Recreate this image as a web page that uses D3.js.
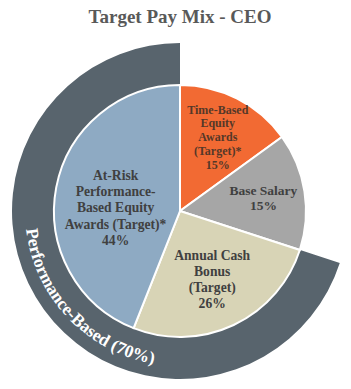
<!DOCTYPE html>
<html>
<head>
<meta charset="utf-8">
<script src="https://cdn.jsdelivr.net/npm/d3@7"></script>
<style>
  body { margin: 0; background: #fff; }
  svg { display: block; }
</style>
</head>
<body>
<div id="chart"></div>
<script>
// data
const title = "Target Pay Mix - CEO";
const sliceNames = ["Time-Based Equity Awards (Target)*", "Base Salary", "Annual Cash Bonus (Target)", "At-Risk Performance-Based Equity Awards (Target)*"];
const sliceValues = [15, 15, 26, 44];
const sliceLines = [
    ["Time-Based", "Equity", "Awards", "(Target)*"],
    ["Base Salary"],
    ["Annual Cash", "Bonus", "(Target)"],
    ["At-Risk", "Performance-", "Based Equity", "Awards (Target)*"]
];
const sliceColors = ["#f26a33", "#a6a6a6", "#d8d4b6", "#8eaac3"];
const groupLabel = "Performance-Based";
const groupMembers = [2, 3];

// layout
const width = 351, height = 389;
const cx = 180, cy = 211;
const rPie = 126, rRing = 168, rText = 155;
const fontFam = "'Liberation Serif', 'Times New Roman', serif";
const labelRadius = [0.66, 0.67, 0.6, 0.52];
const labelShift = [[0, 0], [0, 0], [0, 0], [0, 9]];
const labelFont = [12, 13.5, 13.6, 13.6];
const labelLine = [13.8, 15.5, 16.2, 16.2];
const labelColor = ["#553828", "#404040", "#404040", "#404040"];

const svg = d3.select("#chart").append("svg")
    .attr("width", width)
    .attr("height", height);

svg.append("text")
    .attr("x", cx)
    .attr("y", 23)
    .attr("text-anchor", "middle")
    .attr("font-family", fontFam)
    .attr("font-size", 19)
    .attr("font-weight", "bold")
    .attr("fill", "#595959")
    .text(title);

const g = svg.append("g")
    .attr("transform", `translate(${cx},${cy})`);

const pie = d3.pie().sort(null).value(d => d);
const arcs = pie(sliceValues);

// outer ring for the performance-based group
const ringStart = arcs[groupMembers[0]].startAngle;
const ringEnd = arcs[groupMembers[groupMembers.length - 1]].endAngle;
const groupTotal = d3.sum(groupMembers, i => sliceValues[i]);

g.append("path")
    .attr("d", d3.arc().innerRadius(rPie - 2).outerRadius(rRing)({startAngle: ringStart, endAngle: ringEnd}))
    .attr("fill", "#58646d");

// slices
const arc = d3.arc().innerRadius(0).outerRadius(rPie);
g.selectAll(".slice")
    .data(arcs)
    .enter().append("path")
    .attr("class", "slice")
    .attr("d", arc)
    .attr("fill", (d, i) => sliceColors[i])
    .attr("stroke", "#fff")
    .attr("stroke-width", 2);

// slice labels, one text element per line
arcs.forEach((d, i) => {
    const r = rPie * labelRadius[i];
    const pos = d3.arc().innerRadius(r).outerRadius(r).centroid(d);
    const x = pos[0] + labelShift[i][0];
    const y = pos[1] + labelShift[i][1];
    const lines = sliceLines[i].concat([sliceValues[i] + "%"]);
    const lh = labelLine[i];
    lines.forEach((line, j) => {
        g.append("text")
            .attr("text-anchor", "middle")
            .attr("font-family", fontFam)
            .attr("font-size", labelFont[i])
            .attr("font-weight", "bold")
            .attr("fill", labelColor[i])
            .attr("x", x)
            .attr("y", y - (lines.length - 1) * lh / 2 + j * lh + labelFont[i] * 0.35)
            .text(line);
    });
});

// curved ring label: letters laid one by one along the arc,
// running counterclockwise so glyph tops face the centre
const ringText = `${groupLabel} (${groupTotal}%)`;
const ringFont = 17.5;
const midDeg = 226.5;
const measure = g.append("text")
    .attr("font-family", fontFam)
    .attr("font-size", ringFont)
    .attr("font-weight", "bold")
    .attr("visibility", "hidden");
const widths = ringText.split("").map(ch => {
    measure.text(ch === " " ? "\u00a0" : ch);
    return measure.node().getComputedTextLength();
});
measure.remove();

const total = d3.sum(widths);
let run = -total / 2;
ringText.split("").forEach((ch, i) => {
    const s = run + widths[i] / 2;
    run += widths[i];
    if (ch === " ") return;
    const deg = midDeg - (s / rText) * 180 / Math.PI;
    const rad = deg * Math.PI / 180;
    const x = rText * Math.sin(rad);
    const y = -rText * Math.cos(rad);
    g.append("text")
        .attr("x", x)
        .attr("y", y)
        .attr("text-anchor", "middle")
        .attr("transform", `rotate(${deg - 180},${x},${y})`)
        .attr("font-family", fontFam)
        .attr("font-size", ringFont)
        .attr("font-weight", "bold")
        .attr("fill", "#fff")
        .text(ch);
});
</script>
</body>
</html>
